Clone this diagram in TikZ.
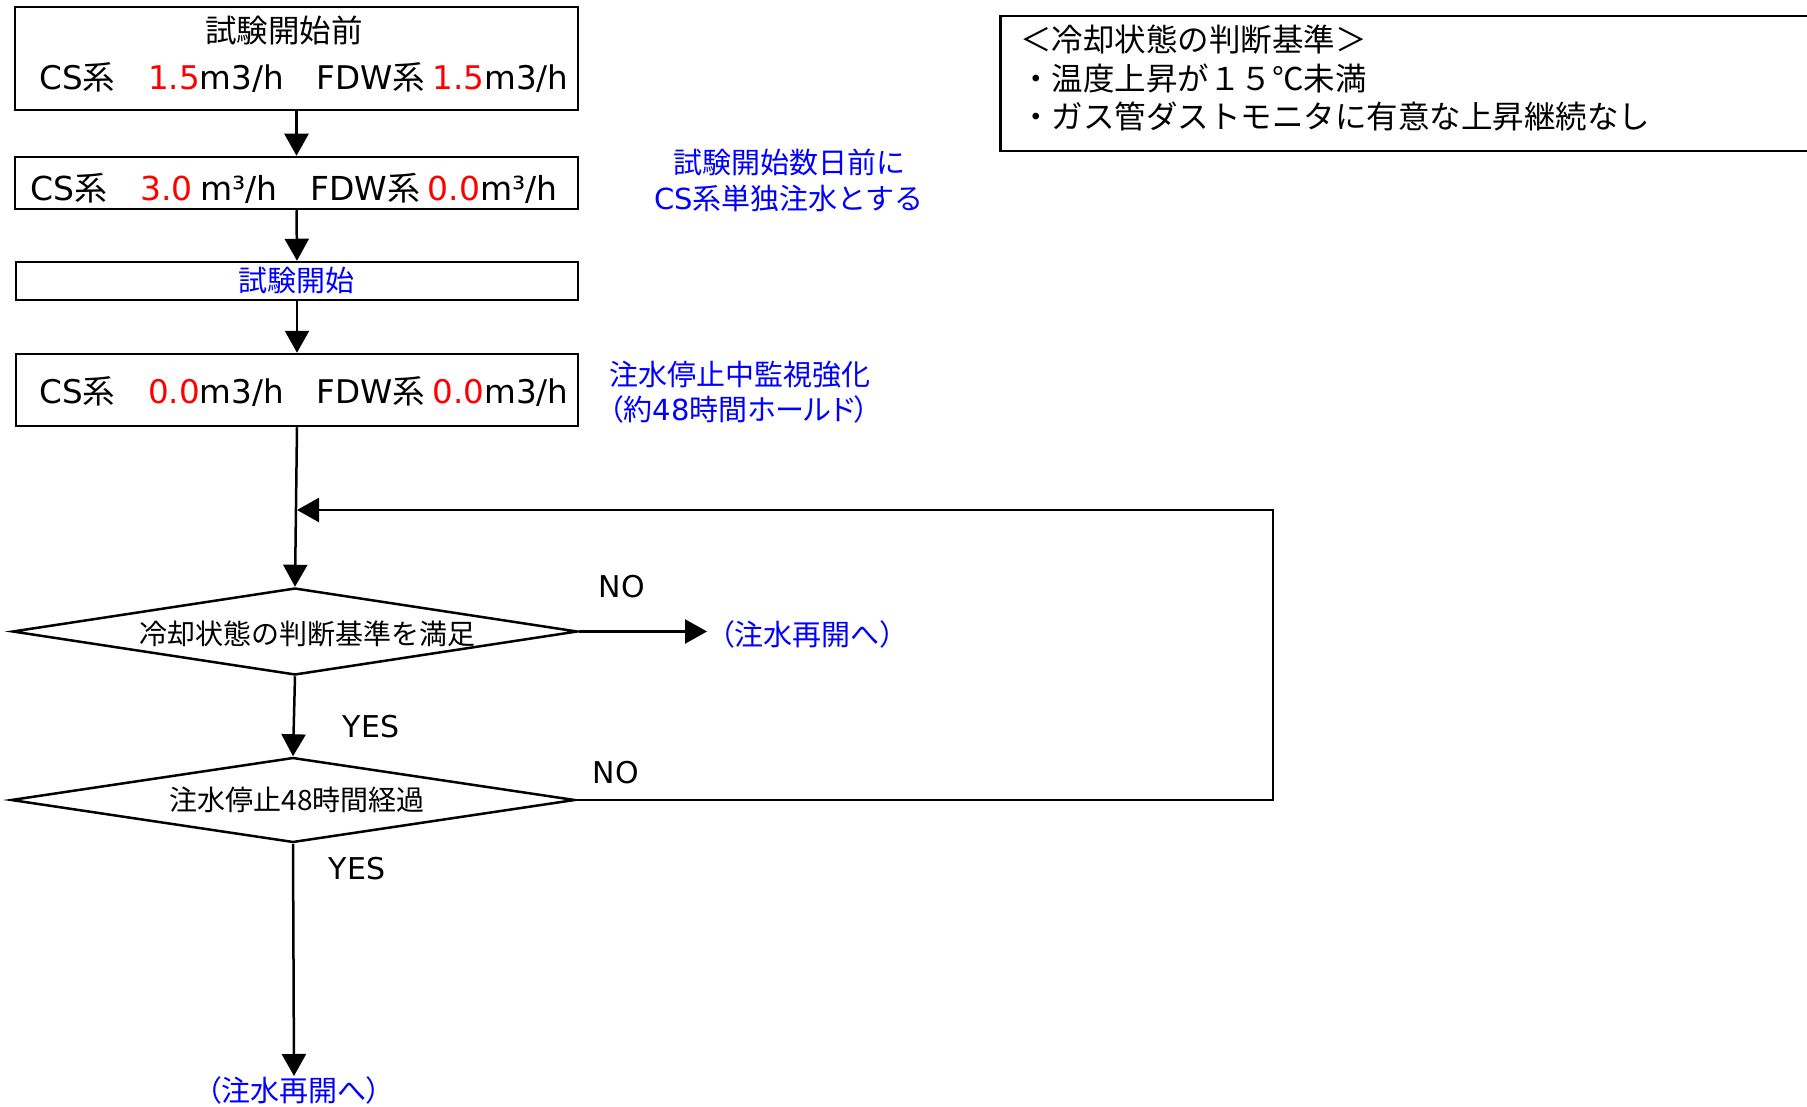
\documentclass[tikz,border=0pt]{standalone}
\usepackage{fontspec}
\setmainfont{Noto Sans CJK JP}
\newfontfamily\lat{DejaVu Sans}
\newfontfamily\jpp[RawFeature=+palt]{Noto Sans CJK JP}
\usetikzlibrary{shapes.geometric,arrows.meta}
\definecolor{myblue}{RGB}{0,0,255}
\definecolor{myred}{RGB}{255,0,0}
\newcommand{\fs}[1]{\fontsize{#1}{#1}\selectfont}
\newcommand{\la}[1]{{\lat #1}}
\newcommand{\rd}[1]{{\lat\color{myred}#1}}
\begin{document}
\begin{tikzpicture}[x=1pt,y=-1pt,
  boxstyle/.style={draw, line width=2.5pt, inner sep=0pt},
  dia/.style={draw, diamond, line width=2.5pt, inner sep=0pt, aspect=6.5},
  arr/.style={line width=2.5pt, -{Triangle[length=22pt,width=24pt]}},
  lbl/.style={inner sep=0pt},
  bluetxt/.style={text=myblue, inner sep=0pt},
]
\useasboundingbox (0,0) rectangle (1807,1107);

% boxes
\node[boxstyle, minimum width=563pt, minimum height=103pt] (b1) at (296.5,58.5) {};
\node[lbl, font=\fs{31.5}] (b1t) at (284,31) {試験開始前};
\node[lbl, font=\fs{32.6}] (b1l) at (304,78) {\la{CS}系　\rd{1.5}\la{m3/h}　\la{FDW}系 \rd{1.5}\la{m3/h}};

\node[boxstyle, minimum width=563pt, minimum height=52pt] (b2) at (296.5,183) {};
\node[lbl, font=\fs{33}] (b2l) at (294,188) {\la{CS}系　\rd{3.0} \la{m³/h}　\la{FDW}系 \rd{0.0}\la{m³/h}};

\node[boxstyle, minimum width=562pt, minimum height=38pt] (b3) at (297,281) {};
\node[bluetxt, font=\fs{29}] (b3t) at (296,281) {試験開始};

\node[boxstyle, minimum width=562pt, minimum height=72pt] (b4) at (297,390) {};
\node[lbl, font=\fs{32.6}] (b4l) at (304,392) {\la{CS}系　\rd{0.0}\la{m3/h}　\la{FDW}系 \rd{0.0}\la{m3/h}};

% notes
\node[bluetxt, font=\fontsize{29}{36}\selectfont, align=center] (n1) at (789,180) {試験開始数日前に\\\la{CS}系単独注水とする};
\node[bluetxt, font=\jpp\fontsize{29}{35}\selectfont, align=left, anchor=west] (n2) at (609,392) {注水停止中監視強化\\（約{\lat 48}時間ホールド）};

% criteria box
\node[draw, line width=2.5pt, inner sep=0pt, minimum width=840pt, minimum height=135pt, anchor=north west] (crit) at (999,15) {};
\node[lbl, font=\fontsize{31.5}{38.6}\selectfont, align=left, anchor=west] (critt) at (1020,78) {＜冷却状態の判断基準＞\\・温度上昇が１５℃未満\\・ガス管ダストモニタに有意な上昇継続なし};

% diamonds
\node[dia, minimum width=565pt, minimum height=87pt] (d1) at (295,631.5) {};
\node[lbl, font=\fs{28}] (d1t) at (307,634) {冷却状態の判断基準を満足};
\node[dia, minimum width=564pt, minimum height=85pt] (d2) at (293,800) {};
\node[lbl, font=\fs{28}] (d2t) at (297,800) {注水停止48時間経過};

% results
\node[bluetxt, anchor=west, font=\jpp\fs{29}] (r1) at (720,634) {（注水再開へ）};
\node[bluetxt, font=\jpp\fs{29}] (r2) at (294,1090) {（注水再開へ）};

% labels
\node[lbl, font=\lat\fs{30}] (no1) at (622,587) {NO};
\node[lbl, font=\lat\fs{30}] (yes1) at (371,727) {YES};
\node[lbl, font=\lat\fs{30}] (no2) at (616,773) {NO};
\node[lbl, font=\lat\fs{30}] (yes2) at (357,869) {YES};

% coordinates
\coordinate (r1c) at (707,630);
\coordinate (loopR) at (1273,510);
\coordinate (loopT) at (297,510);

% connectors
\draw[arr] (b1.south) -- (b2.north);
\draw[arr] (b2.south) -- (b3.north);
\draw[arr] (b3.south) -- (b4.north);
\draw[arr] (b4.south) -- (d1.north);
\draw[arr] (d1.south) -- (d2.north);
\draw[arr] (d1.east) -- (d1.east -| r1c);
\draw[arr] (d2.south) -- (r2.north);
\draw[arr] (d2.east) -| (loopR) -- (loopT);
\end{tikzpicture}
\end{document}
